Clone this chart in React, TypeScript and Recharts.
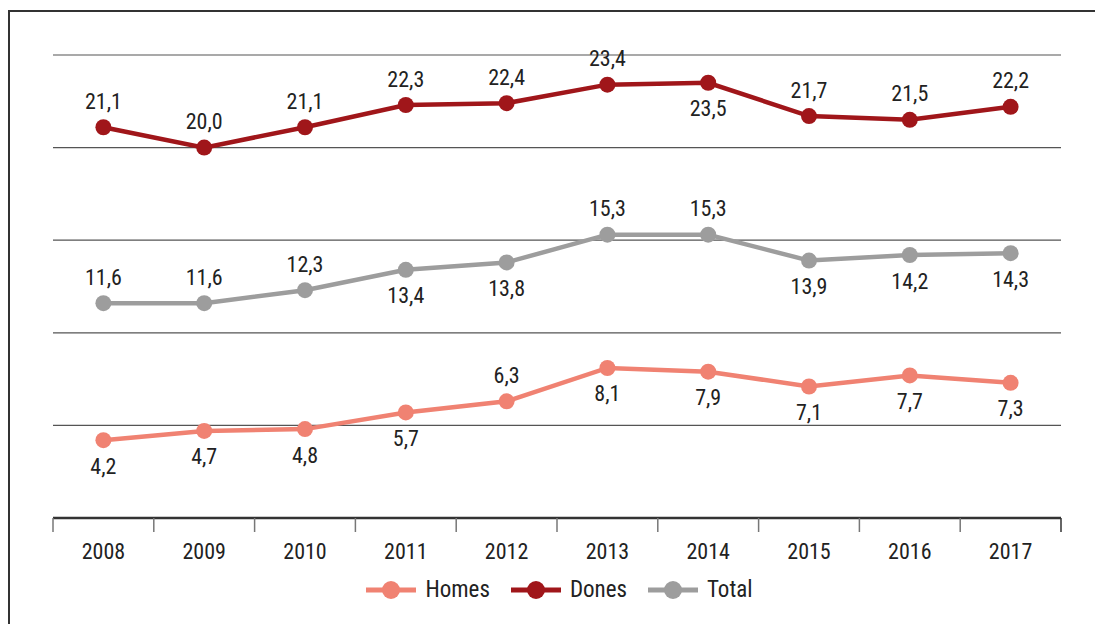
import React from "react";
import { LineChart, Line, XAxis, YAxis, CartesianGrid } from "recharts";

const years = ["2008", "2009", "2010", "2011", "2012", "2013", "2014", "2015", "2016", "2017"];
const homes = [4.2, 4.7, 4.8, 5.7, 6.3, 8.1, 7.9, 7.1, 7.7, 7.3];
const dones = [21.1, 20.0, 21.1, 22.3, 22.4, 23.4, 23.5, 21.7, 21.5, 22.2];
const total = [11.6, 11.6, 12.3, 13.4, 13.8, 15.3, 15.3, 13.9, 14.2, 14.3];
const yTicks = [0, 5, 10, 15, 20, 25];

// where each value label sits relative to its dot
const homesLabelPos = ["below", "below", "below", "below", "above", "below", "below", "below", "below", "below"];
const donesLabelPos = ["above", "above", "above", "above", "above", "above", "below", "above", "above", "above"];
const totalLabelPos = ["above", "above", "above", "below", "below", "above", "above", "below", "below", "below"];

const data = years.map((year, i) => ({
  year,
  homes: homes[i],
  dones: dones[i],
  total: total[i],
}));

const W = 1095;
const H = 624;
const MARGIN = { top: 55, right: 34, bottom: 66, left: 53 };
const BAND = (W - MARGIN.left - MARGIN.right) / years.length;
const FONT = "'Liberation Sans Narrow', 'Roboto Condensed', Roboto, sans-serif";

const COLORS = {
  homes: "#f08272",
  dones: "#a0161a",
  total: "#9d9d9d",
};

const fmt = (v: number) => v.toFixed(1).replace(".", ",");

function makeLabel(positions: string[]) {
  return (props: any) => {
    const { x, y, value, index } = props;
    const below = positions[index] === "below";
    return (
      <text
        x={x}
        y={below ? y + 26 : y - 26}
        textAnchor="middle"
        dominantBaseline="central"
        fontFamily={FONT}
        fontSize={22}
        fill="#222"
      >
        {fmt(value)}
      </text>
    );
  };
}

function YearTick(props: any) {
  const { x, y, payload, index } = props;
  const last = index === years.length - 1;
  return (
    <g>
      <line x1={x - BAND / 2} y1={y - 8} x2={x - BAND / 2} y2={y + 6} stroke="#777" strokeWidth={1.5} />
      {last && (
        <line x1={x + BAND / 2} y1={y - 8} x2={x + BAND / 2} y2={y + 6} stroke="#333" strokeWidth={1.5} />
      )}
      <text
        x={x}
        y={y + 25}
        textAnchor="middle"
        dominantBaseline="central"
        fontFamily={FONT}
        fontSize={22}
        fill="#222"
      >
        {payload.value}
      </text>
    </g>
  );
}

const legendItems = [
  { name: "Homes", color: COLORS.homes },
  { name: "Dones", color: COLORS.dones },
  { name: "Total", color: COLORS.total },
];

export default function App() {
  return (
    <div
      style={{
        position: "absolute",
        left: 0,
        top: 0,
        width: W,
        height: H,
        overflow: "hidden",
        background: "#fff",
      }}
    >
      <div
        style={{
          position: "absolute",
          left: 8,
          top: 10,
          width: W + 20,
          height: H + 20,
          borderLeft: "2px solid #333",
          borderTop: "2px solid #333",
        }}
      />
      <LineChart width={W} height={H} data={data} margin={MARGIN}>
        <CartesianGrid vertical={false} stroke="#555" strokeWidth={1.2} />
        <YAxis hide domain={[0, 25]} ticks={yTicks} />
        <XAxis
          dataKey="year"
          scale="band"
          axisLine={{ stroke: "#333", strokeWidth: 2.5 }}
          tickLine={false}
          tick={<YearTick />}
          interval={0}
          height={40}
        />
        <Line
          dataKey="homes"
          stroke={COLORS.homes}
          strokeWidth={4.5}
          dot={{ r: 8, fill: COLORS.homes, stroke: "none" }}
          isAnimationActive={false}
          label={makeLabel(homesLabelPos)}
        />
        <Line
          dataKey="dones"
          stroke={COLORS.dones}
          strokeWidth={4.5}
          dot={{ r: 8, fill: COLORS.dones, stroke: "none" }}
          isAnimationActive={false}
          label={makeLabel(donesLabelPos)}
        />
        <Line
          dataKey="total"
          stroke={COLORS.total}
          strokeWidth={4.5}
          dot={{ r: 8, fill: COLORS.total, stroke: "none" }}
          isAnimationActive={false}
          label={makeLabel(totalLabelPos)}
        />
      </LineChart>
      <div
        style={{
          position: "absolute",
          left: 12,
          top: 576,
          width: W,
          display: "flex",
          justifyContent: "center",
          alignItems: "center",
          gap: 21,
          fontFamily: FONT,
          fontSize: 23,
          color: "#222",
        }}
      >
        {legendItems.map((item) => (
          <div key={item.name} style={{ display: "flex", alignItems: "center", gap: 9 }}>
            <svg width={50} height={20}>
              <line x1={0} y1={10} x2={50} y2={10} stroke={item.color} strokeWidth={5} />
              <circle cx={25} cy={10} r={9} fill={item.color} />
            </svg>
            <span>{item.name}</span>
          </div>
        ))}
      </div>
    </div>
  );
}
